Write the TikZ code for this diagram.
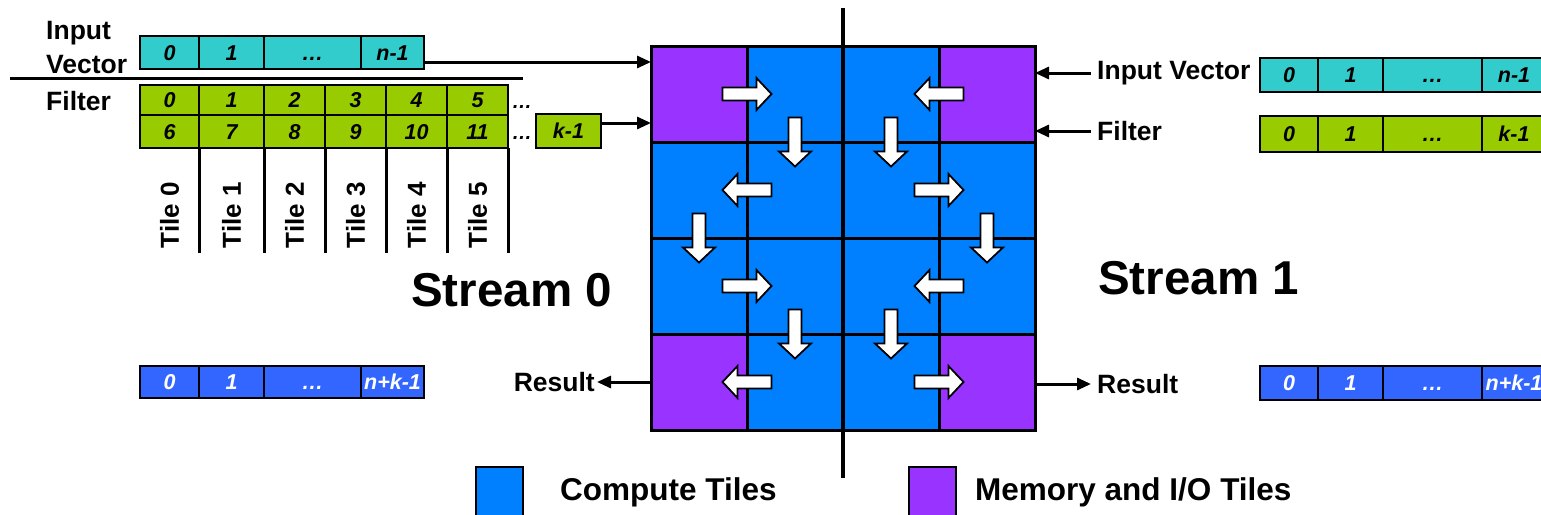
\documentclass[tikz,border=0pt]{standalone}
\usepackage{fontspec}
\setmainfont{Liberation Sans}
\usetikzlibrary{arrows.meta}
\definecolor{vecC}{HTML}{33CCCC}
\definecolor{filC}{HTML}{99CC00}
\definecolor{compC}{HTML}{0080FF}
\definecolor{memC}{HTML}{9933FF}
\definecolor{resC}{HTML}{3366FF}

% array cell: name, x-left, x-right, y-top, y-bottom, fill, text
\newcommand\arrcell[7]{%
  \node[cell, fill=#6, anchor=north west,
        minimum width={(#3-#2)*1pt}, minimum height={(#5-#4)*1pt}]
        (#1) at (#2,#4) {#7};}

\begin{document}
\begin{tikzpicture}[x=1pt,y=-1pt,
  cell/.style={draw=black, line width=2.6pt, inner sep=0pt, outer sep=0pt,
               text height=15pt, text depth=0pt,
               font=\fontsize{21.5}{22}\selectfont\bfseries\itshape},
  lbl/.style={font=\fontsize{26.5}{28}\selectfont\bfseries, inner sep=2pt},
  tilelbl/.style={font=\fontsize{26}{28}\selectfont\bfseries, inner sep=0pt},
  stream/.style={font=\fontsize{47.5}{50}\selectfont\bfseries, inner sep=0pt},
  leg/.style={font=\fontsize{31.5}{34}\selectfont\bfseries, inner sep=0pt},
  tile/.style={draw=black, line width=3pt, minimum size=96pt, inner sep=0pt, outer sep=0pt},
  conn/.style={line width=3pt, -{Triangle[length=14pt,width=12pt]}},
  rule/.style={line width=3pt},
  flow/.pic={\draw[fill=white, line width=1.8pt, line join=miter]
     (-24.5,-6.5) -- (9.5,-6.5) -- (9.5,-16) -- (24.5,0) -- (9.5,16)
     -- (9.5,6.5) -- (-24.5,6.5) -- cycle;}
]
\useasboundingbox (0,0) rectangle (1541,514);

% ---- tile grid ----
\foreach \r in {0,...,3}{
  \foreach \c in {0,...,3}{
    \pgfmathtruncatemacro\ism{and(or(\r==0,\r==3),or(\c==0,\c==3))}
    \ifnum\ism=1 \def\tc{memC}\else\def\tc{compC}\fi
    \node[tile, fill=\tc, anchor=north west] (t\r\c) at ({651+96*\c},{46+96*\r}) {};
  }
}
\draw[line width=3.4pt] (843,8) -- (843,478);

% ---- data flow between tiles ----
\pic at (747,94) {flow};
\pic[rotate=-90] at (795,142) {flow};
\pic[rotate=180] at (747,190) {flow};
\pic[rotate=-90] at (699,238) {flow};
\pic at (747,286) {flow};
\pic[rotate=-90] at (795,334) {flow};
\pic[rotate=180] at (747,382) {flow};

\pic[rotate=180] at (939,94) {flow};
\pic[rotate=-90] at (891,142) {flow};
\pic at (939,190) {flow};
\pic[rotate=-90] at (987,238) {flow};
\pic[rotate=180] at (939,286) {flow};
\pic[rotate=-90] at (891,334) {flow};
\pic at (939,382) {flow};

% ---- stream 0: inputs ----
\node[lbl, anchor=west] (lIn) at (44,33) {Input};
\node[lbl, anchor=west] (lVec) at (44,65) {Vector};
\node[lbl, anchor=west] (lFil) at (44,101) {Filter};
\draw[rule] (10,78) -- (523,78);

\arrcell{iv0}{140}{199}{36}{69}{vecC}{0}
\arrcell{iv1}{199}{264}{36}{69}{vecC}{1}
\arrcell{iv2}{264}{361}{36}{69}{vecC}{\dots}
\arrcell{iv3}{361}{424}{36}{69}{vecC}{n-1}

\arrcell{f00}{140}{199}{85}{115}{filC}{0}
\arrcell{f01}{199}{264}{85}{115}{filC}{1}
\arrcell{f02}{264}{325}{85}{115}{filC}{2}
\arrcell{f03}{325}{386}{85}{115}{filC}{3}
\arrcell{f04}{386}{447}{85}{115}{filC}{4}
\arrcell{f05}{447}{508}{85}{115}{filC}{5}
\arrcell{f10}{140}{199}{115}{148}{filC}{6}
\arrcell{f11}{199}{264}{115}{148}{filC}{7}
\arrcell{f12}{264}{325}{115}{148}{filC}{8}
\arrcell{f13}{325}{386}{115}{148}{filC}{9}
\arrcell{f14}{386}{447}{115}{148}{filC}{10}
\arrcell{f15}{447}{508}{115}{148}{filC}{11}
\node[font=\fontsize{20}{20}\selectfont\bfseries\itshape, inner sep=0pt, anchor=base] (fd0) at (522,108) {\dots};
\node[font=\fontsize{20}{20}\selectfont\bfseries\itshape, inner sep=0pt, anchor=base] (fd1) at (522,139) {\dots};
\arrcell{fk}{536}{601}{114}{148}{filC}{k-1}

\foreach \j in {0,...,5}{
  \draw[rule] (f1\j.south east) -- ++(0,105);
}
\foreach \j/\xc in {0/169.5,1/231.5,2/294.5,3/355.5,4/416.5,5/477.5}{
  \node[tilelbl, rotate=90] (tl\j) at (\xc,215) {Tile \j};
}

\coordinate (ivo) at ([yshift=-9.5pt]iv3.east);
\draw[conn] (ivo) -- (t00.west |- ivo);
\coordinate (fko) at ([yshift=8pt]fk.east);
\draw[conn] (fko) -- (t00.west |- fko);

\node[stream, anchor=west] (s0) at (411,290) {Stream 0};

% ---- stream 0: result ----
\arrcell{r0}{140}{199}{366}{398}{resC}{\textcolor{white}{0}}
\arrcell{r1}{199}{264}{366}{398}{resC}{\textcolor{white}{1}}
\arrcell{r2}{264}{361}{366}{398}{resC}{\textcolor{white}{\dots}}
\arrcell{r3}{361}{424}{366}{398}{resC}{\textcolor{white}{n+k-1}}
\node[lbl, anchor=east] (resL) at (597,382) {Result};
\draw[conn] (t30.west) -- (resL.east);

% ---- stream 1 ----
\node[lbl, anchor=west] (rIV) at (1095,73) {Input Vector};
\node[lbl, anchor=west] (rFil) at (1095,131) {Filter};
\draw[conn] ([xshift=-4pt]rIV.west) -- (t03.east |- rIV.west);
\draw[conn] ([xshift=-4pt]rFil.west) -- (t03.east |- rFil.west);

\arrcell{siv0}{1260}{1318}{58}{92}{vecC}{0}
\arrcell{siv1}{1318}{1383}{58}{92}{vecC}{1}
\arrcell{siv2}{1383}{1482}{58}{92}{vecC}{\dots}
\arrcell{siv3}{1482}{1546}{58}{92}{vecC}{n-1}
\arrcell{sf0}{1260}{1318}{116}{152}{filC}{0}
\arrcell{sf1}{1318}{1383}{116}{152}{filC}{1}
\arrcell{sf2}{1383}{1482}{116}{152}{filC}{\dots}
\arrcell{sf3}{1482}{1546}{116}{152}{filC}{k-1}

\node[stream, anchor=west] (s1) at (1098,278) {Stream 1};

\node[lbl, anchor=west] (resR) at (1095,384) {Result};
\draw[conn] (t33.east |- resR.west) -- ([xshift=-4pt]resR.west);
\arrcell{sr0}{1260}{1318}{366}{400}{resC}{\textcolor{white}{0}}
\arrcell{sr1}{1318}{1383}{366}{400}{resC}{\textcolor{white}{1}}
\arrcell{sr2}{1383}{1482}{366}{400}{resC}{\textcolor{white}{\dots}}
\arrcell{sr3}{1482}{1546}{366}{400}{resC}{\textcolor{white}{n+k-1}}

% ---- legend ----
\node[draw=black, line width=2pt, fill=compC, minimum width=47pt, minimum height=54pt,
      inner sep=0pt, anchor=north west] (lgC) at (475,466) {};
\node[leg, anchor=west] (lgCt) at (560,492) {Compute Tiles};
\node[draw=black, line width=2pt, fill=memC, minimum width=47pt, minimum height=54pt,
      inner sep=0pt, anchor=north west] (lgM) at (908,466) {};
\node[leg, anchor=west] (lgMt) at (975,492) {Memory and I/O Tiles};
\end{tikzpicture}
\end{document}
